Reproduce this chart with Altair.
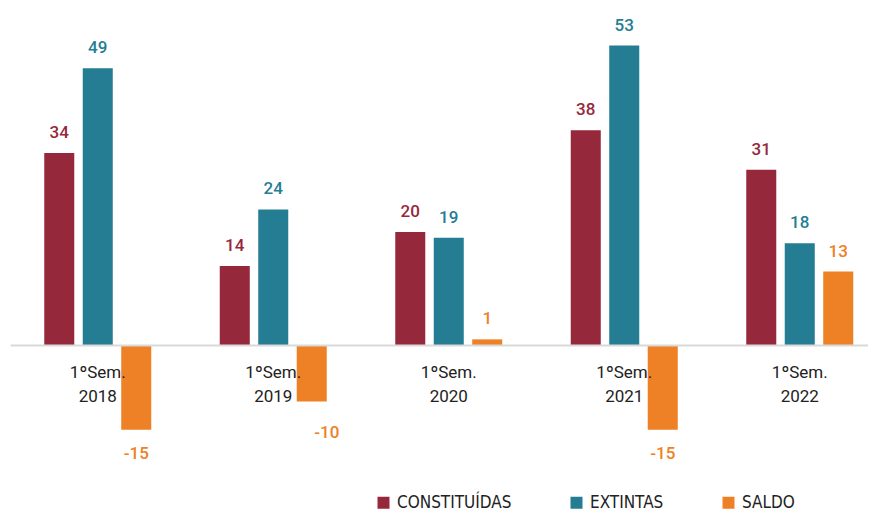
import altair as alt
import pandas as pd

categories = ["1ºSem. 2018", "1ºSem. 2019", "1ºSem. 2020", "1ºSem. 2021", "1ºSem. 2022"]
series = ["CONSTITUÍDAS", "EXTINTAS", "SALDO"]
constituidas = [34, 14, 20, 38, 31]
extintas = [49, 24, 19, 53, 18]
saldo = [-15, -10, 1, -15, 13]
colors = ["#96283c", "#257d94", "#ee8125"]

rows = []
for i, c in enumerate(categories):
    for s, vals in zip(series, [constituidas, extintas, saldo]):
        rows.append({"cat": c, "serie": s, "val": vals[i]})
df = pd.DataFrame(rows)

FONT = "Roboto"
LEG_FONT = "DejaVu Sans Condensed, Liberation Sans Narrow, Roboto"

color = alt.Color(
    "serie:N",
    sort=series,
    scale=alt.Scale(domain=series, range=colors),
    legend=alt.Legend(
        title=None,
        orient="none",
        legendX=365,
        legendY=474,
        direction="horizontal",
        symbolType="square",
        symbolSize=144,
        symbolStrokeWidth=0,
        symbolOpacity=1,
        labelFont=LEG_FONT,
        labelFontSize=17,
        labelColor="#222222",
        labelOffset=5,
        columnPadding=56,
    ),
)

base = alt.Chart(df).transform_calculate(
    lbl="toString(datum.val)"
).encode(
    x=alt.X(
        "cat:N",
        sort=categories,
        title=None,
        scale=alt.Scale(range=[0, 877.5], paddingInner=0, paddingOuter=0),
        axis=alt.Axis(
            offset=-125,
            zindex=1,
            domainColor="#d9d9d9",
            domainWidth=2,
            ticks=False,
            labelAngle=0,
            labelFont=FONT,
            labelFontSize=17,
            labelColor="#222222",
            labelPadding=19,
            labelLineHeight=24,
            labelExpr="split(datum.label, ' ')",
        ),
    ),
    xOffset=alt.XOffset("serie:N", sort=series,
                        scale=alt.Scale(paddingInner=0.22, paddingOuter=0.89)),
    y=alt.Y("val:Q", axis=None,
            scale=alt.Scale(domain=[-22.12, 57.52], nice=False, zero=False)),
    color=color,
)

bars = base.mark_bar()
pos = base.transform_filter("datum.val >= 0").mark_text(
    dy=-15, baseline="alphabetic", font=FONT, fontSize=17, fontWeight=500
).encode(text="lbl:N")
neg = base.transform_filter(
    "datum.val < 0 && datum.cat != '1ºSem. 2019'"
).mark_text(
    dy=29, baseline="alphabetic", font=FONT, fontSize=17, fontWeight=500
).encode(text="lbl:N")
neg2 = base.transform_filter(
    "datum.val < 0 && datum.cat == '1ºSem. 2019'"
).mark_text(
    dx=15, dy=36, baseline="alphabetic", font=FONT, fontSize=17, fontWeight=500
).encode(text="lbl:N")

chart = alt.layer(bars, pos, neg, neg2).properties(
    width=858,
    height=450,
    autosize=alt.AutoSizeParams(type="none"),
    padding={"left": 2, "top": 12, "right": 0, "bottom": 43},
).configure_view(stroke=None)

chart.save("out.html", embed_options={"renderer": "svg", "actions": False})
